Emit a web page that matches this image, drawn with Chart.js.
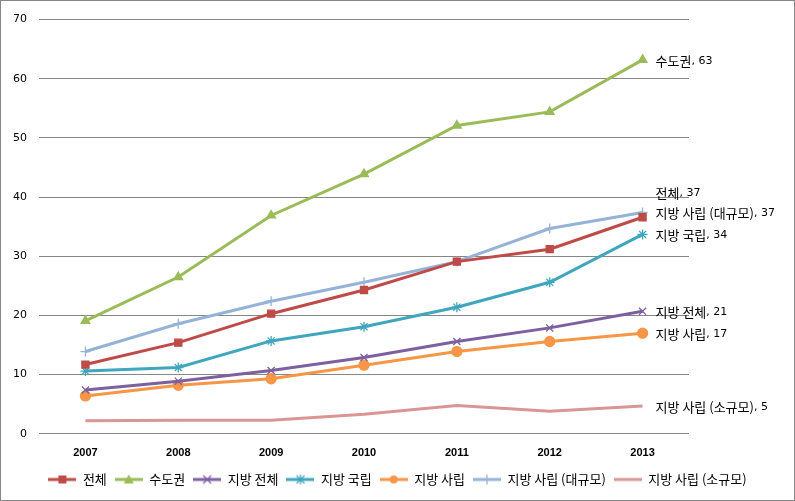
<!DOCTYPE html>
<html>
<head>
<meta charset="utf-8">
<script src="https://cdn.jsdelivr.net/npm/chart.js@4/dist/chart.umd.min.js"></script>
<style>
  body { margin:0; background:#fff; }
  #wrap { width:795px; height:501px; border:1px solid #868686; box-sizing:border-box; }
</style>
</head>
<body>
<div id="wrap"><canvas id="lineChart"></canvas></div>
<script>
/* ---------- DATA ---------- */
const years = ["2007","2008","2009","2010","2011","2012","2013"];
const total      = [11.7, 15.4, 20.3, 24.3, 29.1, 31.2, 36.6];
const capital    = [19.1, 26.5, 36.9, 43.9, 52.1, 54.4, 63.2];
const localAll   = [7.4, 8.9, 10.7, 12.9, 15.6, 17.9, 20.7];
const localNat   = [10.6, 11.2, 15.7, 18.1, 21.4, 25.6, 33.7];
const localPriv  = [6.4, 8.2, 9.3, 11.6, 13.9, 15.6, 17.0];
const privLarge  = [13.9, 18.6, 22.4, 25.6, 29.1, 34.7, 37.4];
const privSmall  = [2.2, 2.3, 2.3, 3.3, 4.8, 3.8, 4.7];
const yTicks = [0,10,20,30,40,50,60,70];

const seriesNames = ["전체","수도권","지방 전체","지방 국립","지방 사립","지방 사립 (대규모)","지방 사립 (소규모)"];
const seriesData = [total, capital, localAll, localNat, localPriv, privLarge, privSmall];
const colors = ["#BE4B48","#9BBB59","#7D60A0","#3FA6BE","#F79646","#95B3D7","#D99694"];
const markers = ["rect","triangle","crossRot","star","circle","cross",false];
const radii = [5,5,5,5,5,5,0];

/* small legend icons: line with marker in the middle */
function legendIcon(color, style){
  const c = document.createElement('canvas');
  c.width = 28; c.height = 12;
  const g = c.getContext('2d');
  g.strokeStyle = color; g.fillStyle = color; g.lineWidth = 3;
  g.beginPath(); g.moveTo(0,6); g.lineTo(28,6); g.stroke();
  g.lineWidth = 1.2;
  if (style === 'rect') g.fillRect(10,2,8,8);
  else if (style === 'triangle'){ g.beginPath(); g.moveTo(14,1); g.lineTo(19,10); g.lineTo(9,10); g.closePath(); g.fill(); }
  else if (style === 'circle'){ g.beginPath(); g.arc(14,6,4,0,Math.PI*2); g.fill(); }
  else if (style === 'crossRot'){ g.beginPath(); g.moveTo(10,2); g.lineTo(18,10); g.moveTo(18,2); g.lineTo(10,10); g.stroke(); }
  else if (style === 'star'){ g.beginPath(); g.moveTo(10,2); g.lineTo(18,10); g.moveTo(18,2); g.lineTo(10,10); g.moveTo(14,1); g.lineTo(14,11); g.stroke(); }
  else if (style === 'cross'){ g.beginPath(); g.moveTo(14,1); g.lineTo(14,11); g.stroke(); }
  return c;
}

/* ---------- END LABELS ---------- */
const labelNudge = {0:-25};
const endLabels = {
  id:'endLabels',
  afterDatasetsDraw(chart){
    const ctx = chart.ctx;
    ctx.save();
    ctx.textBaseline = 'middle';
    ctx.fillStyle = '#000';
    chart.data.datasets.forEach((ds,i)=>{
      const pts = chart.getDatasetMeta(i).data;
      const p = pts[pts.length-1];
      const v = ds.data[ds.data.length-1];
      const x = p.x + 13;
      const y = p.y + 1 + (labelNudge[i] || 0);
      ctx.font = '13px "Noto Sans CJK KR", sans-serif';
      ctx.fillText(ds.label, x, y);
      const w = ctx.measureText(ds.label).width;
      ctx.font = '11px "DejaVu Sans", sans-serif';
      ctx.fillText(', ' + Math.round(v), x + w, y);
    });
    ctx.restore();
  }
};

try {
  new Chart(document.getElementById("lineChart"),{
  type:'line',
  data:{
  labels:years,
  datasets:seriesData.map((d,i)=>({
    label:seriesNames[i],
    data:d,
    borderColor:colors[i],
    backgroundColor:colors[i],
    borderWidth:3,
    pointStyle:markers[i],
    pointRadius:radii[i],
    pointBorderWidth:1.3,
    tension:0
  }))
  },
  options:{
  responsive:true,
  maintainAspectRatio:false,
  animation:false,
  layout:{padding:{top:2,right:0,left:0,bottom:4}},
  scales:{
    x:{
      offset:true,
      grid:{display:false},
      border:{display:false},
      ticks:{color:'#000',font:{size:11,family:'"Liberation Sans", sans-serif',weight:'bold'},padding:5}
    },
    y:{
      min:0,max:70,
      afterBuildTicks(axis){ axis.ticks = yTicks.map(v=>({value:v})); },
      grid:{color:'#868686',drawTicks:false},
      border:{display:false},
      ticks:{color:'#000',font:{size:11,family:'"DejaVu Sans", sans-serif'},padding:12}
    },
    // empty right-hand space that holds the end labels
    yRoom:{
      position:'right',
      grid:{display:false},
      border:{display:false},
      ticks:{display:false},
      afterFit(axis){ axis.width = 105; }
    }
  },
  plugins:{
    tooltip:{enabled:false},
    legend:{
      position:'bottom',
      labels:{
        color:'#000',
        font:{size:13,family:'"Noto Sans CJK KR", sans-serif'},
        usePointStyle:true,
        pointStyleWidth:28,
        boxHeight:12,
        padding:8,
        generateLabels(chart){
          return chart.data.datasets.map((ds,i)=>({
            text:ds.label,
            pointStyle:legendIcon(colors[i], markers[i]),
            fillStyle:colors[i],
            strokeStyle:colors[i],
            lineWidth:0,
            hidden:false,
            datasetIndex:i
          }));
        }
      }
    }
  }
  },
  plugins:[endLabels]
  })
} catch(e) {
  console.error('Error initializing line chart:', e)
}
</script>
</body>
</html>
